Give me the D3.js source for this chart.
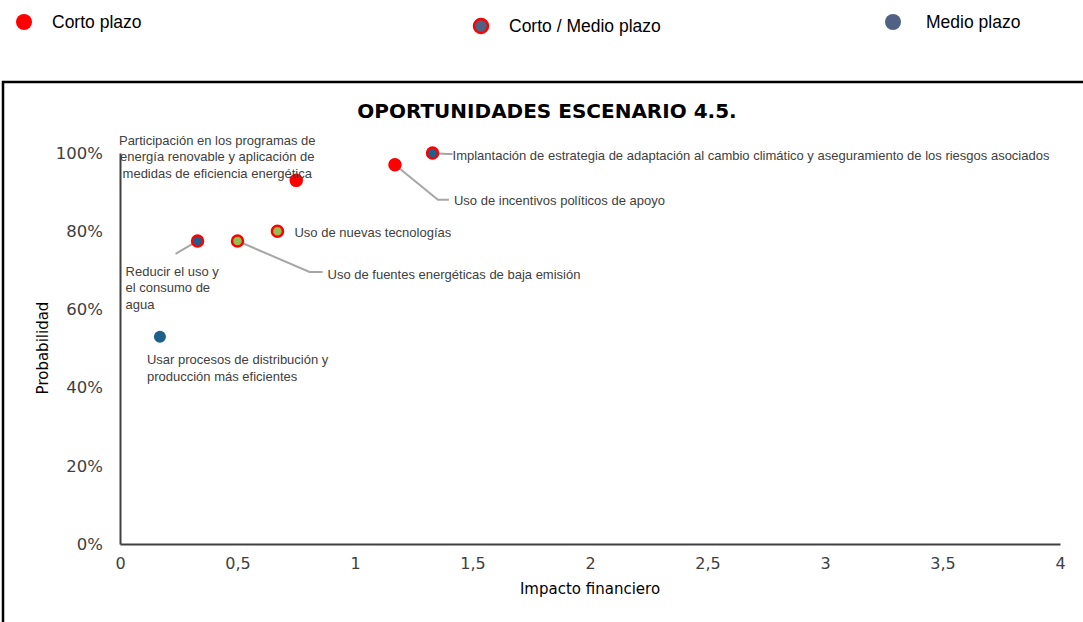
<!DOCTYPE html>
<html><head><meta charset="utf-8">
<script src="https://cdn.jsdelivr.net/npm/d3@7"></script>
<style>body{margin:0;background:#fff;} svg{display:block;font-family:"DejaVu Sans",Verdana,sans-serif;}</style>
</head><body>
<svg id="c" width="1083" height="622"></svg>
<script>
const title = "OPORTUNIDADES ESCENARIO 4.5.";
const legendLabels = ["Corto plazo", "Corto / Medio plazo", "Medio plazo"];
const names = [
  ["Participación en los programas de","energía renovable y aplicación de","medidas de eficiencia energética"],
  ["Implantación de estrategia de adaptación al cambio climático y aseguramiento de los riesgos asociados"],
  ["Uso de incentivos políticos de apoyo"],
  ["Uso de nuevas tecnologías"],
  ["Reducir el uso y","el consumo de","agua"],
  ["Uso de fuentes energéticas de baja emisión"],
  ["Usar procesos de distribución y","producción más eficientes"]
];
const impacto = [0.75, 1.33, 1.17, 0.67, 0.33, 0.50, 0.17];
const probabilidad = [0.93, 1.00, 0.97, 0.80, 0.775, 0.775, 0.53];
const plazo = ["corto", "cortoMedioA", "corto", "cortoMedioB", "cortoMedioA", "cortoMedioB", "medio"];
const xTicks = [0, 0.5, 1, 1.5, 2, 2.5, 3, 3.5, 4];
const yTicks = [0, 0.2, 0.4, 0.6, 0.8, 1.0];

const svg = d3.select("#c");
const x = d3.scaleLinear().domain([0, 4]).range([120, 1060]);
const y = d3.scaleLinear().domain([0, 1]).range([544, 153]);

const fillOf = {corto:"#ff0000", cortoMedioA:"#1f5f8b", cortoMedioB:"#92c04f", medio:"#1f5f8b"};
const strokeOf = {corto:"#ff0000", cortoMedioA:"#ff0000", cortoMedioB:"#ff0000", medio:"none"};

// legend
const leg = [
  {x:24, y:22, fill:"#ff0000", stroke:"none", tx:52, ty:22},
  {x:481, y:26, fill:"#4f6283", stroke:"#ff0000", tx:509, ty:26},
  {x:893, y:22, fill:"#4f6283", stroke:"none", tx:926, ty:22}
];
leg.forEach((l,i)=>{
  svg.append("circle").attr("cx",l.x).attr("cy",l.y).attr("r",l.stroke==="none"?8:7)
    .attr("fill",l.fill).attr("stroke",l.stroke).attr("stroke-width",2.5);
  svg.append("text").attr("x",l.tx).attr("y",l.ty).attr("dy","0.35em")
    .attr("font-family","'Liberation Sans',Arial,sans-serif").attr("font-size",17.5).attr("fill","#000")
    .text(legendLabels[i]);
});

// frame
svg.append("path").attr("d","M3,640 V82 H1090").attr("fill","none").attr("stroke","#000").attr("stroke-width",2.5);

// title
svg.append("text").attr("x",547).attr("y",111).attr("dy","0.35em").attr("text-anchor","middle")
  .attr("font-weight","bold").attr("font-size",20).attr("fill","#000").text(title);

// axes
const gx = svg.append("g").attr("transform","translate(0,544)")
  .call(d3.axisBottom(x).tickValues(xTicks).tickSize(0).tickPadding(14)
    .tickFormat(d=>String(d).replace(".",",")));
gx.select(".domain").attr("stroke","#404040").attr("stroke-width",2);
gx.selectAll("text").attr("font-size",16).attr("fill","#404040").attr("font-family","'DejaVu Sans',sans-serif");

const gy = svg.append("g").attr("transform","translate(120,0)")
  .call(d3.axisLeft(y).tickValues(yTicks).tickSize(0).tickPadding(17).tickFormat(d3.format(".0%")));
gy.select(".domain").attr("stroke","#404040").attr("stroke-width",2);
gy.selectAll("text").attr("font-size",16.5).attr("fill","#404040").attr("font-family","'DejaVu Sans',sans-serif");

svg.append("text").attr("x",590).attr("y",594).attr("text-anchor","middle")
  .attr("font-size",15).attr("fill","#000").text("Impacto financiero");
svg.append("text").attr("transform","translate(48,348) rotate(-90)").attr("text-anchor","middle")
  .attr("font-size",15).attr("fill","#000").text("Probabilidad");

// leader lines (offsets relative to the point)
const leaders = [null, [[14,1],[20,1]], [[43,35],[54,35]], null, [[-22,13]], [[72,31],[85,31]], null];
leaders.forEach((ld,i)=>{
  if(!ld) return;
  const px = x(impacto[i]), py = y(probabilidad[i]);
  const pts = [[px,py]].concat(ld.map(o=>[px+o[0],py+o[1]]));
  svg.append("path").attr("d",d3.line()(pts)).attr("fill","none").attr("stroke","#a6a6a6").attr("stroke-width",2);
});

// points
svg.selectAll("circle.pt").data(impacto).join("circle").attr("class","pt")
  .attr("cx",(d)=>x(d)).attr("cy",(d,i)=>y(probabilidad[i]))
  .attr("r",(d,i)=>plazo[i]==="medio"?6:5.5)
  .attr("fill",(d,i)=>fillOf[plazo[i]])
  .attr("stroke",(d,i)=>strokeOf[plazo[i]]).attr("stroke-width",2.5);

// labels (offsets relative to the point)
const labOff = [[-79,-40,"middle"],[20,2,"start"],[59,36,"start"],[17,1,"start"],[-72,30,"start"],[90,33,"start"],[-13,23,"start"]];
names.forEach((lines,i)=>{
  const px = x(impacto[i]), py = y(probabilidad[i]);
  const t = svg.append("text").attr("font-family","'Liberation Sans',Arial,sans-serif").attr("font-size",13)
    .attr("fill","#404040").attr("text-anchor",labOff[i][2]);
  lines.forEach((ln,j)=>{
    t.append("tspan").attr("x",px+labOff[i][0]).attr("y",py+labOff[i][1]+j*16.5).attr("dy","0.35em").text(ln);
  });
});
</script>
</body></html>
